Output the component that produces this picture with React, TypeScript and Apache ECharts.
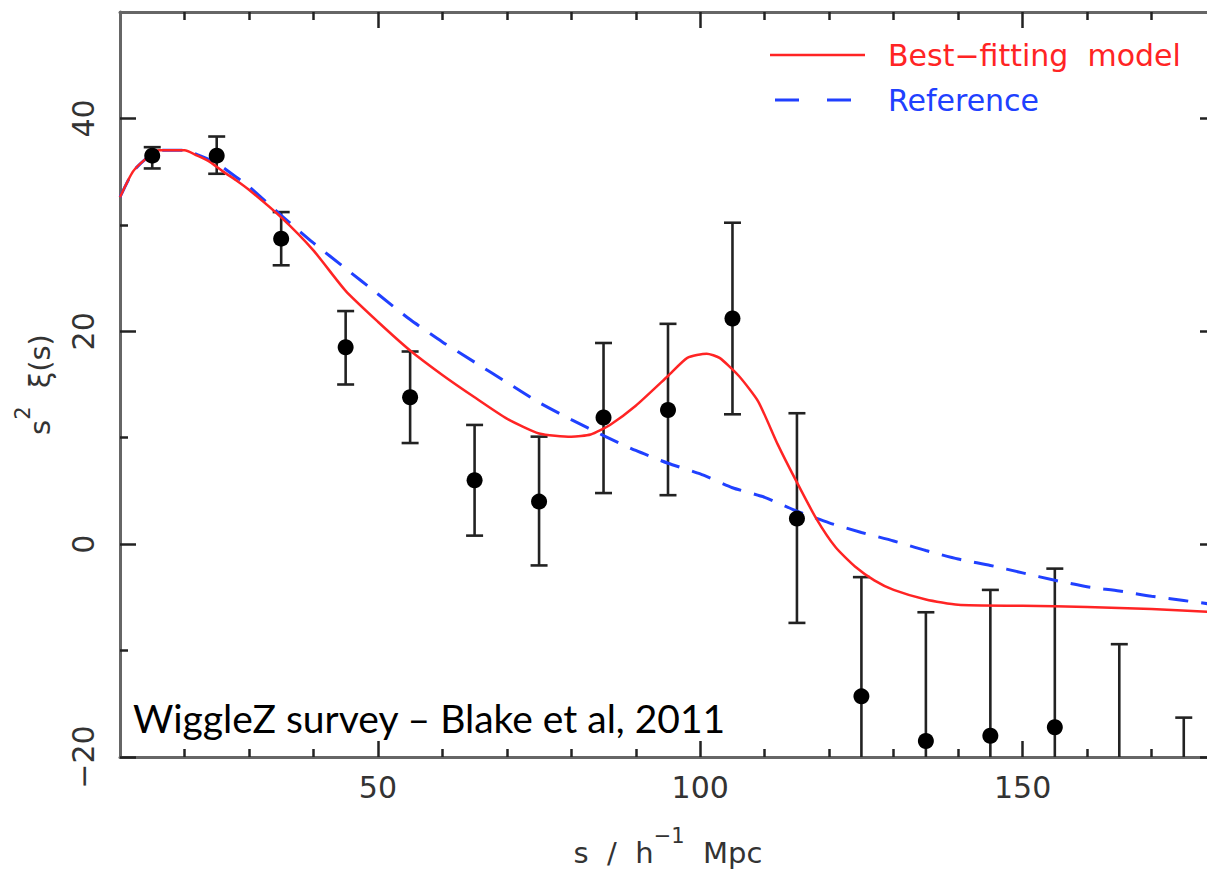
import React, { useEffect, useRef } from "react";
import * as echarts from "echarts";

// Binned measurements: separation s (h^-1 Mpc), s^2 xi(s), error bar ends
const binS = [15, 25, 35, 45, 55, 65, 75, 85, 95, 105, 115, 125, 135, 145, 155, 165, 175];
const binXi = [36.5, 36.5, 28.7, 18.5, 13.8, 6.0, 4.0, 11.9, 12.6, 21.2, 2.4, -14.3, -18.5, -18.0, -17.2, -23.5, -30.5];
const binHigh = [37.3, 38.3, 31.2, 21.9, 18.1, 11.2, 10.1, 18.9, 20.7, 30.2, 12.3, -3.1, -6.4, -4.3, -2.3, -9.4, -16.3];
const binLow = [35.3, 34.8, 26.2, 15.0, 9.5, 0.8, -2.0, 4.8, 4.6, 12.2, -7.4, -25.5, -30.6, -31.7, -32.1, -37.6, -44.7];

// Best-fitting model curve
const bestS = [10, 12, 14, 16, 18, 20, 22, 24, 26, 28, 30, 35, 40, 45, 50, 55, 60, 65, 70, 75, 80, 83, 86, 90, 95, 98, 101, 103, 106, 109, 112, 115, 118, 121, 124, 127, 130, 135, 140, 150, 160, 170, 180];
const bestXi = [32.6, 35.0, 36.2, 37.0, 37.0, 37.0, 36.5, 35.9, 35.0, 34.2, 33.3, 30.7, 27.6, 23.8, 20.9, 18.2, 15.9, 13.8, 11.8, 10.4, 10.1, 10.3, 11.2, 13.0, 15.8, 17.5, 17.9, 17.5, 15.8, 13.4, 9.4, 5.8, 2.4, -0.3, -2.1, -3.4, -4.3, -5.2, -5.7, -5.8, -5.9, -6.1, -6.4];

// Reference model curve
const refS = [10, 12, 14, 16, 18, 20, 22, 25, 28, 30, 35, 40, 45, 50, 55, 60, 65, 70, 75, 80, 85, 90, 95, 100, 105, 110, 115, 120, 125, 130, 135, 140, 145, 150, 155, 160, 165, 170, 175, 180];
const refXi = [32.6, 35.0, 36.2, 37.0, 37.0, 37.0, 36.6, 35.8, 34.5, 33.6, 30.9, 28.3, 25.9, 23.5, 21.1, 19.0, 17.1, 15.2, 13.3, 11.7, 10.2, 8.8, 7.6, 6.6, 5.3, 4.4, 3.1, 2.0, 1.1, 0.3, -0.6, -1.4, -2.0, -2.7, -3.4, -4.0, -4.4, -4.9, -5.3, -5.7];

// Axis ticks
const xMajor = [50, 100, 150];
const xMinor = [20, 30, 40, 60, 70, 80, 90, 110, 120, 130, 140, 160, 170];
const yMajor = [-20, 0, 20, 40];
const yMinor = [-10, 10, 30];

const FONT = "DejaVu Sans";
const AXIS_COLOR = "#666";
const TICK_COLOR = "#222";
const TEXT_COLOR = "#333";
const RED = "#ff2424";
const BLUE = "#2040ff";

function fmtNum(v: number) {
  return v < 0 ? "\u2212" + Math.abs(v) : String(v);
}

export default function App() {
  const ref = useRef<HTMLDivElement>(null);
  useEffect(() => {
    if (!ref.current) return;
    const chart = echarts.init(ref.current, null, { renderer: "svg" });
    const tickStyle = { color: TICK_COLOR, width: 2.5 };
    const common = { type: "value", min: 10, max: 180, splitLine: { show: false } };
    const commonY = { type: "value", min: -20, max: 50, splitLine: { show: false } };
    const richName = {
      n: { fontSize: 29, fontFamily: FONT, color: TEXT_COLOR, lineHeight: 42, verticalAlign: "bottom" },
      sup: { fontSize: 21, fontFamily: FONT, color: TEXT_COLOR, lineHeight: 42, verticalAlign: "top" },
    };
    const option: any = {
      animation: false,
      backgroundColor: "#fff",
      grid: { left: 120, top: 12, width: 1096, height: 745, containLabel: false, outerBoundsMode: "none" },
      xAxis: [
        {
          ...common,
          position: "bottom",
          axisLine: { show: true, onZero: false, lineStyle: { color: AXIS_COLOR, width: 3 } },
          axisTick: { show: true, inside: true, length: 16, customValues: xMajor, lineStyle: tickStyle },
          axisLabel: { show: true, customValues: xMajor, margin: 15, fontSize: 30, fontFamily: FONT, color: TEXT_COLOR, formatter: fmtNum },
          name: "{n|s  /  h}{sup|\u22121}{n|  Mpc}",
          nameLocation: "middle",
          nameGap: 68,
          nameTextStyle: { rich: richName },
        },
        {
          ...common,
          position: "bottom",
          axisLine: { show: false, onZero: false },
          axisTick: { show: true, inside: true, length: 8, customValues: xMinor, lineStyle: tickStyle },
          axisLabel: { show: false },
        },
        {
          ...common,
          position: "top",
          axisLine: { show: true, onZero: false, lineStyle: { color: AXIS_COLOR, width: 3 } },
          axisTick: { show: true, inside: true, length: 16, customValues: xMajor, lineStyle: tickStyle },
          axisLabel: { show: false },
        },
        {
          ...common,
          position: "top",
          axisLine: { show: false, onZero: false },
          axisTick: { show: true, inside: true, length: 8, customValues: xMinor, lineStyle: tickStyle },
          axisLabel: { show: false },
        },
      ],
      yAxis: [
        {
          ...commonY,
          position: "left",
          axisLine: { show: true, onZero: false, lineStyle: { color: AXIS_COLOR, width: 3 } },
          axisTick: { show: true, inside: true, length: 16, customValues: yMajor, lineStyle: tickStyle },
          axisLabel: { show: true, customValues: yMajor, rotate: 90, margin: 22, fontSize: 30, fontFamily: FONT, color: TEXT_COLOR, formatter: fmtNum },
          name: "{n|s}{sup|2}{n|  \u03be(s)}",
          nameLocation: "middle",
          nameRotate: 90,
          nameGap: 66,
          nameTextStyle: { rich: richName },
        },
        {
          ...commonY,
          position: "left",
          axisLine: { show: false, onZero: false },
          axisTick: { show: true, inside: true, length: 8, customValues: yMinor, lineStyle: tickStyle },
          axisLabel: { show: false },
        },
        {
          ...commonY,
          position: "right",
          axisLine: { show: true, onZero: false, lineStyle: { color: AXIS_COLOR, width: 3 } },
          axisTick: { show: true, inside: true, length: 16, customValues: yMajor, lineStyle: tickStyle },
          axisLabel: { show: false },
        },
        {
          ...commonY,
          position: "right",
          axisLine: { show: false, onZero: false },
          axisTick: { show: true, inside: true, length: 8, customValues: yMinor, lineStyle: tickStyle },
          axisLabel: { show: false },
        },
      ],
      series: [
        {
          type: "custom",
          name: "errors",
          xAxisIndex: 0,
          yAxisIndex: 0,
          clip: true,
          encode: { x: 0, y: [1, 2] },
          data: binS.map((s, i) => [s, binLow[i], binHigh[i]]),
          renderItem: (params: any, api: any) => {
            const s = api.value(0);
            const lo = api.coord([s, api.value(1)]);
            const hi = api.coord([s, api.value(2)]);
            const w = 8.5;
            const st = { stroke: TICK_COLOR, lineWidth: 2.6 };
            return {
              type: "group",
              children: [
                { type: "line", shape: { x1: lo[0], y1: lo[1], x2: hi[0], y2: hi[1] }, style: st },
                { type: "line", shape: { x1: hi[0] - w, y1: hi[1], x2: hi[0] + w, y2: hi[1] }, style: st },
                { type: "line", shape: { x1: lo[0] - w, y1: lo[1], x2: lo[0] + w, y2: lo[1] }, style: st },
              ],
            };
          },
          z: 2,
        },
        {
          type: "line",
          name: "Reference",
          xAxisIndex: 0,
          yAxisIndex: 0,
          data: refS.map((s, i) => [s, refXi[i]]),
          symbol: "none",
          smooth: 0.2,
          clip: true,
          lineStyle: { color: BLUE, width: 3, type: [20, 13] },
          z: 3,
        },
        {
          type: "line",
          name: "Best-fitting model",
          xAxisIndex: 0,
          yAxisIndex: 0,
          data: bestS.map((s, i) => [s, bestXi[i]]),
          symbol: "none",
          smooth: 0.2,
          clip: true,
          lineStyle: { color: RED, width: 2.5 },
          z: 4,
        },
        {
          type: "scatter",
          name: "data",
          xAxisIndex: 0,
          yAxisIndex: 0,
          data: binS.map((s, i) => [s, binXi[i]]),
          symbol: "circle",
          symbolSize: 16,
          clip: true,
          itemStyle: { color: "#000", opacity: 1 },
          z: 5,
        },
      ],
      graphic: [
        { type: "line", shape: { x1: 770, y1: 55, x2: 865, y2: 55 }, style: { stroke: RED, lineWidth: 2.5 } },
        {
          type: "text",
          x: 888,
          y: 55,
          style: { text: "Best\u2212fitting\u00a0 model", fill: RED, font: `30px "${FONT}"`, verticalAlign: "middle", align: "left" },
        },
        { type: "line", shape: { x1: 775, y1: 100, x2: 851, y2: 100 }, style: { stroke: BLUE, lineWidth: 3, lineDash: [24, 28] } },
        {
          type: "text",
          x: 888,
          y: 100,
          style: { text: "Reference", fill: BLUE, font: `30px "${FONT}"`, verticalAlign: "middle", align: "left" },
        },
        {
          type: "text",
          x: 133,
          y: 718,
          style: { text: "WiggleZ survey \u2013 Blake et al, 2011", fill: "#000", font: `39px Lato`, verticalAlign: "middle", align: "left" },
          z: 10,
        },
      ],
    };
    chart.setOption(option);
    return () => chart.dispose();
  }, []);
  return <div ref={ref} style={{ position: "fixed", left: 0, top: 0, width: 1207, height: 872, background: "#fff" }} />;
}
